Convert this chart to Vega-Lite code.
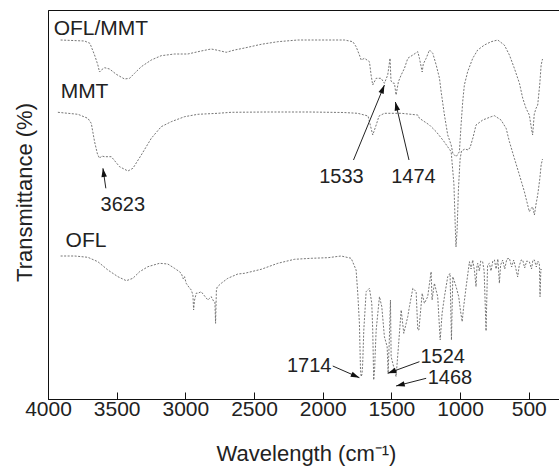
{
  "$schema": "https://vega.github.io/schema/vega-lite/v6.json",
  "width": 511,
  "height": 389,
  "autosize": {"type": "none"},
  "padding": {"left": 48, "top": 10, "right": 0, "bottom": 67},
  "background": "white",
  "config": {
    "view": {"stroke": "#111", "strokeWidth": 1},
    "font": "Liberation Sans",
    "axis": {"grid": false, "domainColor": "#111", "domainWidth": 1, "titleFontWeight": "normal", "titleColor": "#222", "labelColor": "#222", "titleFont": "Liberation Sans", "labelFont": "Liberation Sans"}
  },
  "datasets": {
    "spectra": [
      {"s": "OFL/MMT", "w": 3908, "v": 359}, {"s": "OFL/MMT", "w": 3734, "v": 358}, {"s": "OFL/MMT", "w": 3695, "v": 355.7}, {"s": "OFL/MMT", "w": 3661, "v": 344}, {"s": "OFL/MMT", "w": 3637, "v": 334}, {"s": "OFL/MMT", "w": 3625, "v": 327}, {"s": "OFL/MMT", "w": 3612, "v": 329}, {"s": "OFL/MMT", "w": 3588, "v": 331.3}, {"s": "OFL/MMT", "w": 3552, "v": 330}, {"s": "OFL/MMT", "w": 3503, "v": 324.7}, {"s": "OFL/MMT", "w": 3443, "v": 320}, {"s": "OFL/MMT", "w": 3406, "v": 320.7}, {"s": "OFL/MMT", "w": 3370, "v": 325.7}, {"s": "OFL/MMT", "w": 3321, "v": 332.3}, {"s": "OFL/MMT", "w": 3248, "v": 339}, {"s": "OFL/MMT", "w": 3176, "v": 343.3}, {"s": "OFL/MMT", "w": 3079, "v": 345}, {"s": "OFL/MMT", "w": 2982, "v": 345}, {"s": "OFL/MMT", "w": 2885, "v": 348}, {"s": "OFL/MMT", "w": 2812, "v": 350}, {"s": "OFL/MMT", "w": 2764, "v": 348.7}, {"s": "OFL/MMT", "w": 2703, "v": 346.7}, {"s": "OFL/MMT", "w": 2642, "v": 349}, {"s": "OFL/MMT", "w": 2569, "v": 351}, {"s": "OFL/MMT", "w": 2448, "v": 354.7}, {"s": "OFL/MMT", "w": 2327, "v": 357.3}, {"s": "OFL/MMT", "w": 2182, "v": 359}, {"s": "OFL/MMT", "w": 2011, "v": 359}, {"s": "OFL/MMT", "w": 1842, "v": 359}, {"s": "OFL/MMT", "w": 1781, "v": 357.3}, {"s": "OFL/MMT", "w": 1757, "v": 352.3}, {"s": "OFL/MMT", "w": 1733, "v": 344}, {"s": "OFL/MMT", "w": 1720, "v": 339}, {"s": "OFL/MMT", "w": 1696, "v": 340.7}, {"s": "OFL/MMT", "w": 1660, "v": 337.3}, {"s": "OFL/MMT", "w": 1648, "v": 324}, {"s": "OFL/MMT", "w": 1636, "v": 314}, {"s": "OFL/MMT", "w": 1611, "v": 320.7}, {"s": "OFL/MMT", "w": 1575, "v": 320.7}, {"s": "OFL/MMT", "w": 1551, "v": 315.7}, {"s": "OFL/MMT", "w": 1527, "v": 324}, {"s": "OFL/MMT", "w": 1510, "v": 340.7}, {"s": "OFL/MMT", "w": 1503, "v": 318}, {"s": "OFL/MMT", "w": 1490, "v": 316}, {"s": "OFL/MMT", "w": 1478, "v": 315.7}, {"s": "OFL/MMT", "w": 1466, "v": 304}, {"s": "OFL/MMT", "w": 1449, "v": 317.3}, {"s": "OFL/MMT", "w": 1429, "v": 324}, {"s": "OFL/MMT", "w": 1405, "v": 330.7}, {"s": "OFL/MMT", "w": 1381, "v": 340.7}, {"s": "OFL/MMT", "w": 1344, "v": 344}, {"s": "OFL/MMT", "w": 1308, "v": 347.3}, {"s": "OFL/MMT", "w": 1296, "v": 340.7}, {"s": "OFL/MMT", "w": 1276, "v": 327}, {"s": "OFL/MMT", "w": 1268, "v": 335}, {"s": "OFL/MMT", "w": 1247, "v": 340.7}, {"s": "OFL/MMT", "w": 1223, "v": 349}, {"s": "OFL/MMT", "w": 1199, "v": 345.7}, {"s": "OFL/MMT", "w": 1174, "v": 334}, {"s": "OFL/MMT", "w": 1150, "v": 320.7}, {"s": "OFL/MMT", "w": 1138, "v": 307.3}, {"s": "OFL/MMT", "w": 1114, "v": 284}, {"s": "OFL/MMT", "w": 1090, "v": 264}, {"s": "OFL/MMT", "w": 1065, "v": 254}, {"s": "OFL/MMT", "w": 1053, "v": 245.7}, {"s": "OFL/MMT", "w": 1029, "v": 242.3}, {"s": "OFL/MMT", "w": 1005, "v": 247.3}, {"s": "OFL/MMT", "w": 993, "v": 274}, {"s": "OFL/MMT", "w": 981, "v": 297.3}, {"s": "OFL/MMT", "w": 969, "v": 314}, {"s": "OFL/MMT", "w": 945, "v": 327.3}, {"s": "OFL/MMT", "w": 908, "v": 340.7}, {"s": "OFL/MMT", "w": 872, "v": 349}, {"s": "OFL/MMT", "w": 823, "v": 354}, {"s": "OFL/MMT", "w": 774, "v": 357.3}, {"s": "OFL/MMT", "w": 726, "v": 359}, {"s": "OFL/MMT", "w": 678, "v": 354}, {"s": "OFL/MMT", "w": 641, "v": 344}, {"s": "OFL/MMT", "w": 605, "v": 330.7}, {"s": "OFL/MMT", "w": 568, "v": 315.7}, {"s": "OFL/MMT", "w": 544, "v": 300.7}, {"s": "OFL/MMT", "w": 520, "v": 290.7}, {"s": "OFL/MMT", "w": 496, "v": 284}, {"s": "OFL/MMT", "w": 480, "v": 270}, {"s": "OFL/MMT", "w": 472, "v": 264}, {"s": "OFL/MMT", "w": 460, "v": 285}, {"s": "OFL/MMT", "w": 447, "v": 290.7}, {"s": "OFL/MMT", "w": 435, "v": 294}, {"s": "OFL/MMT", "w": 420, "v": 315}, {"s": "OFL/MMT", "w": 410, "v": 334}, {"s": "OFL/MMT", "w": 400, "v": 340},

      {"s": "MMT", "w": 3928, "v": 286.7}, {"s": "MMT", "w": 3782, "v": 284.7}, {"s": "MMT", "w": 3710, "v": 280.7}, {"s": "MMT", "w": 3685, "v": 275.7}, {"s": "MMT", "w": 3661, "v": 257.3}, {"s": "MMT", "w": 3640, "v": 245}, {"s": "MMT", "w": 3625, "v": 240.7}, {"s": "MMT", "w": 3610, "v": 243}, {"s": "MMT", "w": 3588, "v": 242.3}, {"s": "MMT", "w": 3539, "v": 242.3}, {"s": "MMT", "w": 3479, "v": 232.3}, {"s": "MMT", "w": 3418, "v": 228}, {"s": "MMT", "w": 3382, "v": 230.7}, {"s": "MMT", "w": 3321, "v": 244}, {"s": "MMT", "w": 3248, "v": 260.7}, {"s": "MMT", "w": 3176, "v": 272.3}, {"s": "MMT", "w": 3103, "v": 277.3}, {"s": "MMT", "w": 3006, "v": 282.3}, {"s": "MMT", "w": 2909, "v": 284.7}, {"s": "MMT", "w": 2764, "v": 285.7}, {"s": "MMT", "w": 2666, "v": 286.7}, {"s": "MMT", "w": 2400, "v": 287}, {"s": "MMT", "w": 2100, "v": 287}, {"s": "MMT", "w": 1850, "v": 286.5}, {"s": "MMT", "w": 1745, "v": 285.7}, {"s": "MMT", "w": 1670, "v": 283}, {"s": "MMT", "w": 1636, "v": 264}, {"s": "MMT", "w": 1611, "v": 274}, {"s": "MMT", "w": 1590, "v": 283}, {"s": "MMT", "w": 1551, "v": 285.7}, {"s": "MMT", "w": 1429, "v": 285.7}, {"s": "MMT", "w": 1308, "v": 284}, {"s": "MMT", "w": 1296, "v": 280.7}, {"s": "MMT", "w": 1223, "v": 274}, {"s": "MMT", "w": 1174, "v": 267.3}, {"s": "MMT", "w": 1120, "v": 258}, {"s": "MMT", "w": 1065, "v": 247.3}, {"s": "MMT", "w": 1045, "v": 215}, {"s": "MMT", "w": 1035, "v": 172}, {"s": "MMT", "w": 1030, "v": 152}, {"s": "MMT", "w": 1022, "v": 168}, {"s": "MMT", "w": 1012, "v": 210}, {"s": "MMT", "w": 1000, "v": 240}, {"s": "MMT", "w": 990, "v": 248}, {"s": "MMT", "w": 965, "v": 250}, {"s": "MMT", "w": 940, "v": 249}, {"s": "MMT", "w": 926, "v": 252}, {"s": "MMT", "w": 905, "v": 262}, {"s": "MMT", "w": 884, "v": 274}, {"s": "MMT", "w": 835, "v": 279}, {"s": "MMT", "w": 774, "v": 282.3}, {"s": "MMT", "w": 750, "v": 283.3}, {"s": "MMT", "w": 702, "v": 279}, {"s": "MMT", "w": 665, "v": 270.7}, {"s": "MMT", "w": 641, "v": 257.3}, {"s": "MMT", "w": 605, "v": 240.7}, {"s": "MMT", "w": 568, "v": 224}, {"s": "MMT", "w": 532, "v": 207.3}, {"s": "MMT", "w": 508, "v": 194}, {"s": "MMT", "w": 496, "v": 187.3}, {"s": "MMT", "w": 485, "v": 190}, {"s": "MMT", "w": 472, "v": 192.3}, {"s": "MMT", "w": 459, "v": 184}, {"s": "MMT", "w": 447, "v": 195}, {"s": "MMT", "w": 435, "v": 204}, {"s": "MMT", "w": 420, "v": 220}, {"s": "MMT", "w": 410, "v": 234}, {"s": "MMT", "w": 400, "v": 240},

      {"s": "OFL", "w": 3908, "v": 143}, {"s": "OFL", "w": 3806, "v": 143}, {"s": "OFL", "w": 3710, "v": 141.7}, {"s": "OFL", "w": 3637, "v": 137.3}, {"s": "OFL", "w": 3564, "v": 129}, {"s": "OFL", "w": 3491, "v": 122.3}, {"s": "OFL", "w": 3430, "v": 118.3}, {"s": "OFL", "w": 3382, "v": 120.7}, {"s": "OFL", "w": 3333, "v": 127.3}, {"s": "OFL", "w": 3273, "v": 132.3}, {"s": "OFL", "w": 3188, "v": 135.7}, {"s": "OFL", "w": 3128, "v": 135}, {"s": "OFL", "w": 3079, "v": 130.7}, {"s": "OFL", "w": 3050, "v": 128}, {"s": "OFL", "w": 3030, "v": 125.7}, {"s": "OFL", "w": 3015, "v": 120}, {"s": "OFL", "w": 3006, "v": 122.3}, {"s": "OFL", "w": 2994, "v": 115.7}, {"s": "OFL", "w": 2975, "v": 112}, {"s": "OFL", "w": 2957, "v": 109}, {"s": "OFL", "w": 2945, "v": 104}, {"s": "OFL", "w": 2940, "v": 89}, {"s": "OFL", "w": 2933, "v": 99}, {"s": "OFL", "w": 2920, "v": 106}, {"s": "OFL", "w": 2909, "v": 105.7}, {"s": "OFL", "w": 2885, "v": 107.3}, {"s": "OFL", "w": 2860, "v": 103}, {"s": "OFL", "w": 2836, "v": 99}, {"s": "OFL", "w": 2812, "v": 102.3}, {"s": "OFL", "w": 2795, "v": 98}, {"s": "OFL", "w": 2785, "v": 97}, {"s": "OFL", "w": 2780, "v": 75.7}, {"s": "OFL", "w": 2774, "v": 109}, {"s": "OFL", "w": 2768, "v": 112}, {"s": "OFL", "w": 2739, "v": 115.7}, {"s": "OFL", "w": 2691, "v": 120.7}, {"s": "OFL", "w": 2618, "v": 125}, {"s": "OFL", "w": 2569, "v": 125.7}, {"s": "OFL", "w": 2448, "v": 129.7}, {"s": "OFL", "w": 2327, "v": 135.7}, {"s": "OFL", "w": 2206, "v": 139.7}, {"s": "OFL", "w": 2084, "v": 140.7}, {"s": "OFL", "w": 1963, "v": 141.3}, {"s": "OFL", "w": 1866, "v": 143}, {"s": "OFL", "w": 1793, "v": 140.7}, {"s": "OFL", "w": 1757, "v": 129}, {"s": "OFL", "w": 1745, "v": 105.7}, {"s": "OFL", "w": 1733, "v": 75.7}, {"s": "OFL", "w": 1725, "v": 29}, {"s": "OFL", "w": 1720, "v": 22.3}, {"s": "OFL", "w": 1714, "v": 25}, {"s": "OFL", "w": 1709, "v": 35.7}, {"s": "OFL", "w": 1701, "v": 69}, {"s": "OFL", "w": 1684, "v": 107.3}, {"s": "OFL", "w": 1660, "v": 110.7}, {"s": "OFL", "w": 1643, "v": 95.7}, {"s": "OFL", "w": 1636, "v": 69}, {"s": "OFL", "w": 1629, "v": 19}, {"s": "OFL", "w": 1622, "v": 30}, {"s": "OFL", "w": 1619, "v": 42.3}, {"s": "OFL", "w": 1611, "v": 69}, {"s": "OFL", "w": 1587, "v": 102.3}, {"s": "OFL", "w": 1570, "v": 92.3}, {"s": "OFL", "w": 1551, "v": 62.3}, {"s": "OFL", "w": 1531, "v": 52.3}, {"s": "OFL", "w": 1524, "v": 26}, {"s": "OFL", "w": 1515, "v": 60}, {"s": "OFL", "w": 1507, "v": 99}, {"s": "OFL", "w": 1502, "v": 42.3}, {"s": "OFL", "w": 1490, "v": 35.7}, {"s": "OFL", "w": 1466, "v": 22.3}, {"s": "OFL", "w": 1449, "v": 52.3}, {"s": "OFL", "w": 1429, "v": 89}, {"s": "OFL", "w": 1410, "v": 65.7}, {"s": "OFL", "w": 1381, "v": 82.3}, {"s": "OFL", "w": 1369, "v": 92.3}, {"s": "OFL", "w": 1344, "v": 110.7}, {"s": "OFL", "w": 1320, "v": 107.3}, {"s": "OFL", "w": 1308, "v": 69}, {"s": "OFL", "w": 1300, "v": 69}, {"s": "OFL", "w": 1276, "v": 105.7}, {"s": "OFL", "w": 1260, "v": 95.7}, {"s": "OFL", "w": 1236, "v": 102.3}, {"s": "OFL", "w": 1211, "v": 127.3}, {"s": "OFL", "w": 1204, "v": 99}, {"s": "OFL", "w": 1187, "v": 115.7}, {"s": "OFL", "w": 1163, "v": 102.3}, {"s": "OFL", "w": 1145, "v": 59}, {"s": "OFL", "w": 1131, "v": 85.7}, {"s": "OFL", "w": 1114, "v": 102.3}, {"s": "OFL", "w": 1090, "v": 122.3}, {"s": "OFL", "w": 1073, "v": 125.7}, {"s": "OFL", "w": 1063, "v": 59}, {"s": "OFL", "w": 1053, "v": 122.3}, {"s": "OFL", "w": 1029, "v": 112.3}, {"s": "OFL", "w": 1010, "v": 102.3}, {"s": "OFL", "w": 998, "v": 89}, {"s": "OFL", "w": 985, "v": 77.3}, {"s": "OFL", "w": 974, "v": 92.3}, {"s": "OFL", "w": 956, "v": 112.3}, {"s": "OFL", "w": 932, "v": 137.3}, {"s": "OFL", "w": 920, "v": 130}, {"s": "OFL", "w": 908, "v": 139}, {"s": "OFL", "w": 895, "v": 128}, {"s": "OFL", "w": 884, "v": 112.3}, {"s": "OFL", "w": 877, "v": 133}, {"s": "OFL", "w": 872, "v": 135.7}, {"s": "OFL", "w": 860, "v": 128}, {"s": "OFL", "w": 850, "v": 138}, {"s": "OFL", "w": 836, "v": 137.3}, {"s": "OFL", "w": 825, "v": 128}, {"s": "OFL", "w": 811, "v": 68}, {"s": "OFL", "w": 800, "v": 134}, {"s": "OFL", "w": 787, "v": 135.7}, {"s": "OFL", "w": 775, "v": 128}, {"s": "OFL", "w": 762, "v": 138}, {"s": "OFL", "w": 750, "v": 139}, {"s": "OFL", "w": 738, "v": 130}, {"s": "OFL", "w": 725, "v": 140}, {"s": "OFL", "w": 714, "v": 115.7}, {"s": "OFL", "w": 705, "v": 134}, {"s": "OFL", "w": 690, "v": 139}, {"s": "OFL", "w": 675, "v": 130}, {"s": "OFL", "w": 660, "v": 140}, {"s": "OFL", "w": 641, "v": 140.7}, {"s": "OFL", "w": 625, "v": 132}, {"s": "OFL", "w": 610, "v": 139}, {"s": "OFL", "w": 595, "v": 131}, {"s": "OFL", "w": 581, "v": 122}, {"s": "OFL", "w": 570, "v": 133}, {"s": "OFL", "w": 555, "v": 139}, {"s": "OFL", "w": 544, "v": 139}, {"s": "OFL", "w": 530, "v": 131}, {"s": "OFL", "w": 515, "v": 138}, {"s": "OFL", "w": 496, "v": 137.3}, {"s": "OFL", "w": 480, "v": 130}, {"s": "OFL", "w": 470, "v": 139}, {"s": "OFL", "w": 459, "v": 139}, {"s": "OFL", "w": 445, "v": 132}, {"s": "OFL", "w": 435, "v": 138}, {"s": "OFL", "w": 423, "v": 135.7}, {"s": "OFL", "w": 418, "v": 102.3}, {"s": "OFL", "w": 412, "v": 130}, {"s": "OFL", "w": 403, "v": 129}
    ],
    "seriesLabels": [
      {"t": "OFL/MMT", "w": 3959, "v": 370},
      {"t": "MMT", "w": 3908, "v": 307},
      {"t": "OFL", "w": 3872, "v": 158.5}
    ],
    "peakLabels": [
      {"t": "3623", "w": 3455, "v": 194},
      {"t": "1533", "w": 1864, "v": 222},
      {"t": "1474", "w": 1340, "v": 222},
      {"t": "1714", "w": 2099, "v": 33},
      {"t": "1524", "w": 1127, "v": 42.5},
      {"t": "1468", "w": 1074, "v": 20.7}
    ],
    "arrows": [
      {"peak": "3623", "sx": 3579, "sy": 210.7, "tx": 3600, "ty": 230.7},
      {"peak": "1533", "sx": 1776, "sy": 239, "tx": 1551, "ty": 314},
      {"peak": "1474", "sx": 1372, "sy": 239, "tx": 1471, "ty": 297},
      {"peak": "1714", "sx": 1927, "sy": 33, "tx": 1733, "ty": 21.3},
      {"peak": "1524", "sx": 1296, "sy": 37.3, "tx": 1527, "ty": 25.7},
      {"peak": "1468", "sx": 1247, "sy": 20.7, "tx": 1466, "ty": 13}
    ]
  },
  "layer": [
    {
      "data": {"name": "spectra"},
      "mark": {"type": "line", "stroke": "#666", "strokeWidth": 0.9, "strokeDash": [2, 1.5], "clip": true},
      "encoding": {
        "x": {"field": "w", "type": "quantitative",
          "scale": {"domain": [4000, 280], "nice": false, "zero": false},
          "axis": {"values": [4000, 3500, 3000, 2500, 2000, 1500, 1000, 500], "format": "d", "labelFontSize": 21, "labelFlush": false, "labelOverlap": false, "tickSize": -7, "tickColor": "#111", "labelPadding": 6, "title": "Wavelength (cm⁻¹)", "titleFontSize": 22, "titleX": 258, "titleY": 61, "titleBaseline": "alphabetic", "titleAlign": "center"}},
        "y": {"field": "v", "type": "quantitative",
          "scale": {"domain": [0, 389], "nice": false, "zero": false},
          "axis": {"labels": false, "ticks": false, "title": "Transmittance (%)", "titleFontSize": 22, "titleX": -24, "titleY": 182, "titleAngle": -90, "titleAlign": "center", "titleBaseline": "middle"}},
        "detail": {"field": "s", "type": "nominal"}
      }
    },
    {
      "data": {"name": "seriesLabels"},
      "mark": {"type": "text", "align": "left", "baseline": "middle", "fontSize": 21, "color": "#222"},
      "encoding": {
        "x": {"field": "w", "type": "quantitative"},
        "y": {"field": "v", "type": "quantitative"},
        "text": {"field": "t"}
      }
    },
    {
      "data": {"name": "peakLabels"},
      "mark": {"type": "text", "align": "center", "baseline": "middle", "fontSize": 20, "color": "#222"},
      "encoding": {
        "x": {"field": "w", "type": "quantitative"},
        "y": {"field": "v", "type": "quantitative"},
        "text": {"field": "t"}
      }
    },
    {
      "data": {"name": "arrows"},
      "mark": {"type": "rule", "color": "#222", "strokeWidth": 1},
      "encoding": {
        "x": {"field": "sx", "type": "quantitative"},
        "x2": {"field": "tx"},
        "y": {"field": "sy", "type": "quantitative"},
        "y2": {"field": "ty"}
      }
    },
    {
      "data": {"name": "arrows"},
      "mark": {"type": "point", "filled": true, "color": "#111", "opacity": 1, "size": 300, "strokeWidth": 0,
        "shape": "M0,0L-0.32,1L0.32,1Z",
        "angle": {"expr": "atan2(scale('x', datum.tx) - scale('x', datum.sx), scale('y', datum.sy) - scale('y', datum.ty)) * 180 / PI"}},
      "encoding": {
        "x": {"field": "tx", "type": "quantitative"},
        "y": {"field": "ty", "type": "quantitative"}
      }
    }
  ]
}
